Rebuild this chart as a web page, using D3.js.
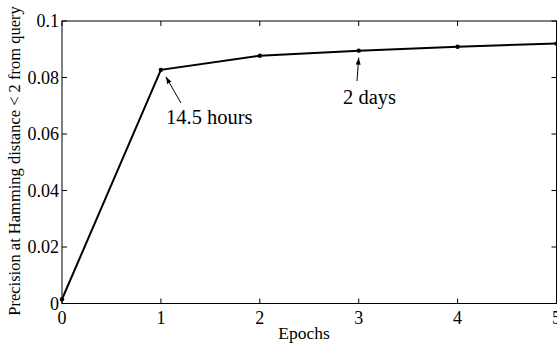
<!DOCTYPE html>
<html>
<head>
<meta charset="utf-8">
<script src="https://cdn.jsdelivr.net/npm/d3@7"></script>
<style>
  body { margin: 0; background: #fff; }
  text { font-family: "Liberation Serif", "Times New Roman", serif; fill: #000; }
</style>
</head>
<body>
<div id="chart"></div>
<script>
// data
var epochs = [0, 1, 2, 3, 4, 5];
var precision = [0.0015, 0.0827, 0.0877, 0.0895, 0.0909, 0.0920];
var xTicks = [0, 1, 2, 3, 4, 5];
var yTicks = [0, 0.02, 0.04, 0.06, 0.08, 0.1];
var yTickLabels = ["0", "0.02", "0.04", "0.06", "0.08", "0.1"];
var notes = [
  {epoch: 1, label: "14.5 hours"},
  {epoch: 3, label: "2 days"}
];

var width = 557, height = 345;
var margin = {top: 21, right: 0.5, bottom: 41.5, left: 62};

var svg = d3.select("#chart").append("svg")
    .attr("width", width)
    .attr("height", height);

var x = d3.scaleLinear().domain([0, 5]).range([margin.left, width - margin.right]);
var y = d3.scaleLinear().domain([0, 0.1]).range([height - margin.bottom, margin.top]);

// box
svg.append("rect")
    .attr("x", x(0)).attr("y", y(0.1))
    .attr("width", x(5) - x(0)).attr("height", y(0) - y(0.1))
    .attr("fill", "none").attr("stroke", "#000").attr("stroke-width", 1);

// inward ticks on all four sides
var tl = 5;
var g = svg.append("g").attr("stroke", "#000").attr("stroke-width", 1);
xTicks.forEach(function(t) {
  g.append("line").attr("x1", x(t)).attr("x2", x(t)).attr("y1", y(0)).attr("y2", y(0) - tl);
  g.append("line").attr("x1", x(t)).attr("x2", x(t)).attr("y1", y(0.1)).attr("y2", y(0.1) + tl);
});
yTicks.forEach(function(t) {
  g.append("line").attr("x1", x(0)).attr("x2", x(0) + tl).attr("y1", y(t)).attr("y2", y(t));
  g.append("line").attr("x1", x(5)).attr("x2", x(5) - tl).attr("y1", y(t)).attr("y2", y(t));
});

// tick labels
svg.append("g").selectAll("text")
    .data(xTicks).enter().append("text")
    .attr("x", function(d) { return x(d); })
    .attr("y", y(0) + 20)
    .attr("text-anchor", "middle")
    .style("font-size", "18px")
    .text(function(d) { return d; });

svg.append("g").selectAll("text")
    .data(yTicks).enter().append("text")
    .attr("x", x(0) - 3)
    .attr("y", function(d) { return y(d) + 6; })
    .attr("text-anchor", "end")
    .style("font-size", "18px")
    .text(function(d, i) { return yTickLabels[i]; });

// axis labels
svg.append("text")
    .attr("x", 304).attr("y", 339)
    .attr("text-anchor", "middle")
    .style("font-size", "17.5px")
    .text("Epochs");

svg.append("text")
    .attr("transform", "translate(20," + 161 + ")rotate(-90)")
    .attr("text-anchor", "middle")
    .style("font-size", "16.5px")
    .text("Precision at Hamming distance < 2 from query");

// line + markers
var pts = epochs.map(function(e, i) { return [e, precision[i]]; });
svg.append("path")
    .datum(pts)
    .attr("fill", "none").attr("stroke", "#000").attr("stroke-width", 2)
    .attr("d", d3.line().x(function(d) { return x(d[0]); }).y(function(d) { return y(d[1]); }));

svg.append("g").selectAll("circle")
    .data(pts).enter().append("circle")
    .attr("cx", function(d) { return x(d[0]); })
    .attr("cy", function(d) { return y(d[1]); })
    .attr("r", 2.2)
    .attr("fill", "#000");

// annotations
svg.append("defs").append("marker")
    .attr("id", "head")
    .attr("viewBox", "0 0 10 10")
    .attr("refX", 10).attr("refY", 5)
    .attr("markerWidth", 7).attr("markerHeight", 7)
    .attr("orient", "auto")
    .append("path").attr("d", "M0,1.5L10,5L0,8.5z").attr("fill", "#000");

function pv(e) { return precision[epochs.indexOf(e)]; }

// 14.5 hours
var n1 = notes[0];
svg.append("line")
    .attr("x1", 181).attr("y1", 103)
    .attr("x2", x(n1.epoch) + 5).attr("y2", y(pv(n1.epoch)) + 7)
    .attr("stroke", "#000").attr("stroke-width", 1)
    .attr("marker-end", "url(#head)");
svg.append("text")
    .attr("x", 166).attr("y", 124)
    .style("font-size", "20.5px")
    .text(n1.label);

// 2 days
var n2 = notes[1];
svg.append("line")
    .attr("x1", 357).attr("y1", 81)
    .attr("x2", x(n2.epoch)).attr("y2", y(pv(n2.epoch)) + 7)
    .attr("stroke", "#000").attr("stroke-width", 1)
    .attr("marker-end", "url(#head)");
svg.append("text")
    .attr("x", 343).attr("y", 104)
    .style("font-size", "20.5px")
    .text(n2.label);
</script>
</body>
</html>
